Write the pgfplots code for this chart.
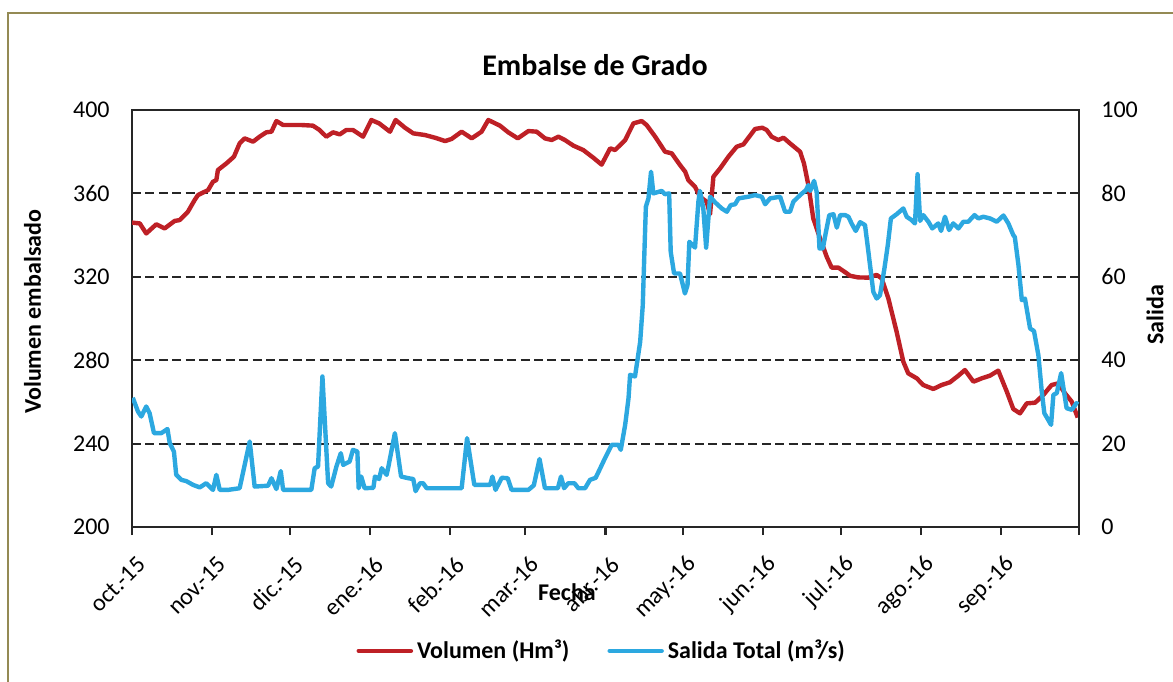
\documentclass[border=0pt]{standalone}
\usepackage{fontspec}
\setmainfont{Carlito}
\usepackage{pgfplots}
\pgfplotsset{compat=1.18}
\usepackage{pgfplotstable}
\definecolor{volred}{RGB}{190,32,38}
\definecolor{salblue}{RGB}{44,168,224}
\definecolor{frameol}{RGB}{148,138,84}
\definecolor{axgray}{RGB}{38,38,38}

\pgfplotstableread{
d v
0 346
3 345.6
5.5 340.8
9.4 345.2
12.6 343.2
16.5 346.8
18.4 347.2
21.6 351.2
24.2 356.8
25.5 359.2
29.4 361.6
31.3 365.6
32.6 366.4
33.2 371.2
36.5 374.4
39.4 377.6
41.6 384
43.5 386.4
46.8 384.8
49.3 387.2
51.9 389.3
53.9 389.6
55.8 394.7
58.4 392.8
65.4 392.8
69.9 392.5
72.5 390.4
75.1 387.2
77.7 389.3
80.3 388.3
82.8 390.4
85.4 390.4
89.3 387.2
92.5 395.2
95.5 393.6
99.7 389.6
101.9 395.2
105.5 391.5
108.7 388.8
113.2 388
117.1 386.7
121 385.1
123.5 386.1
127.4 389.6
131.3 386.4
135.1 389.6
137.7 395.2
142.2 392.5
145.4 389.3
149.1 386.4
153.2 389.9
156.4 389.6
159.6 386.4
162.2 385.6
164.8 387.2
167.3 385.6
170.6 382.9
174.4 380.8
178.3 377.1
181.5 373.8
184.8 381.6
186.7 380.8
190.6 385.6
193.8 393.6
197 394.7
198.9 392.8
202.2 387.2
206 380
208.6 379.2
211.8 373.6
213.8 370.4
215 366.4
217.6 363.2
219.5 358.4
222.1 356
223.4 350
224.7 368
227.3 372
230.5 377.6
233.7 382.4
236.3 383.5
240.8 390.9
243.6 391.5
245.3 390.4
247.2 387.2
249.8 385.6
251.8 386.7
254.3 384
258.2 380
259.7 374.4
261.4 364
263.3 348
265.9 338.5
268.5 329.6
270.4 324.4
273 324.4
276.2 321.7
277.5 320.5
280.7 319.7
284.6 319.6
287.8 320.9
289.7 319.3
292.3 309.7
295.5 293.7
298.1 279.3
300 273.7
303.3 271.3
305.8 268.1
309.7 266.2
312.9 268.1
316.1 269.4
319.4 272.6
321.9 275.3
325.2 269.7
328.4 271.3
331.6 272.6
334.8 275
338.1 264.9
340.6 256.6
343.2 254.5
345.8 259.3
349 259.6
352.2 263.3
355.4 268.1
358 268.9
360.6 264.1
363.2 260.1
365.5 252.5
}\voltable

\pgfplotstableread{
d s
0.3 31
2.3 27.7
3.6 26.5
5.5 28.9
6.8 27.3
8.5 22.5
11.3 22.5
13.7 23.5
14.6 20.1
16.2 18.1
17.1 12.5
19.1 11.3
21 11
23.6 10.1
26.2 9.5
28.7 10.5
31.3 8.9
32.6 12.5
33.9 8.9
37.1 8.9
41.6 9.3
45.5 20.5
47.4 9.7
52.6 9.9
53.9 11.7
55.8 9.1
57.5 13.4
58.4 8.9
69.3 8.9
70.6 14.1
71.9 14.5
73.6 36.1
75.8 10.5
77 9.7
79 14.5
80.7 17.7
81.6 14.9
84.1 15.7
85.4 18.5
87.1 18.1
87.6 9.3
88.6 12.1
89.9 9.3
93.3 9.4
93.9 12.1
95.5 11.5
96.5 14.1
98.4 12.5
99.1 14.5
101.6 22.5
104 12.1
106.8 11.7
108.7 11.5
109.6 8.6
111.3 10.5
112.5 10.5
113.9 9.3
127.4 9.3
129.5 21.3
132.3 10.1
138.4 10.1
139.3 12.1
140.5 8.9
142.9 11.8
145.2 11.7
146.7 8.9
153.2 8.9
155.3 10
157.5 16.3
159.6 9.3
164.6 9.3
165.8 12.1
167 9.3
168.6 10.5
171 10.5
172.5 9.3
175.1 9.3
177 11.3
179.2 11.8
180.9 14
182.8 16.5
185.4 19.7
188 19.7
188.9 18.5
190.6 24.5
191.9 30.9
192.5 36.5
194.4 36.1
196.4 44.4
197.4 53.2
198 65.2
198.6 76.8
199.6 78.8
200.6 85.2
201.5 80
204.7 80.6
206 79.8
207.6 80
208.2 66
209.5 60.8
211.8 60.8
213.7 56
214.7 58
215.4 68.4
217.6 67
218.9 78
219.5 80.6
220.8 76.4
221.9 67
223.4 79.2
225.3 77.9
227.9 76.4
229.9 75.6
231.4 77.2
233.1 77.4
234.4 78.8
238.2 79.2
240.8 79.6
243.4 79.2
244.7 77.4
246.6 78.8
250.5 79.2
252.4 75.6
254.3 75.6
255.6 78
258.2 79.6
260.5 80.8
261.4 82
262.1 80.6
263.6 83
264.6 80.4
265.7 66.8
267 66.8
268.2 70.8
269.5 74.8
271.1 75
272.4 71.8
273.7 74.8
275.6 74.8
276.9 74.4
278.1 72.8
279.7 71
281.4 73.1
283.3 72.4
284.6 66
286.5 56.4
287.8 54.8
289.1 55.6
290.8 62
292.1 67.6
293.3 74
295.5 75
298.1 76.4
299.4 74.4
301.3 73.6
302.6 72.8
303.6 84.6
304.6 73.4
305.8 74.8
307.8 73.2
309.3 71.6
311.6 72.8
312.7 71
314.2 74.4
315.8 71.2
317.4 72.8
319.4 71.6
321.3 73.2
323.2 73.2
325.6 74.8
327.1 74
329 74.4
331.6 74
334.2 73.2
336.8 74.7
338.7 72.8
340.6 70
341.2 69.5
342.6 62.8
343.9 54.4
345.1 54.8
347.1 47.6
348.6 47
350.3 41.2
351.6 32.5
352.6 27.3
354.1 25.7
355.2 24.5
356.1 31.7
357.4 32.1
359.1 36.9
361.2 28.5
363.2 28.1
365 29.7
365.6 29.4
}\saltable

\begin{document}
\begin{tikzpicture}[x=1pt,y=1pt]
\useasboundingbox (0,0) rectangle (586.5,340.5);
\draw[frameol, line width=1pt] (4,-5) -- (4,333.8) -- (600,333.8);
\begin{axis}[
  at={(66pt,77pt)}, anchor=south west, scale only axis,
  width=473.5pt, height=208.5pt,
  xmin=0, xmax=366, ymin=200, ymax=400,
  xtick={0,31,61,92,123,152,183,213,244,274,305,336,366},
  xticklabels={oct.-15,nov.-15,dic.-15,ene.-16,feb.-16,mar.-16,abr.-16,may.-16,jun.-16,jul.-16,ago.-16,sep.-16,{}},
  xtick pos=bottom, tick align=outside, major tick length=4pt,
  xtick style={axgray, line width=1.1pt},
  ytick={200,240,...,400}, ytick pos=left, ytick style={draw=none},
  ymajorgrids, major grid style={axgray, line width=1pt, dash pattern=on 4.5pt off 2.2pt},
  axis line style={axgray, line width=1.3pt},
  tick label style={font=\fontsize{12}{14}\selectfont, text=black},
  /pgf/number format/assume math mode=true,
  xticklabel style={rotate=45, anchor=east, inner sep=0pt, xshift=-5.5pt, yshift=-12.5pt},
  yticklabel style={anchor=east, inner sep=0pt, xshift=-7pt},
]
\addplot[volred, line width=2.2pt, line join=round] table {\voltable};
\end{axis}
\begin{axis}[
  at={(66pt,77pt)}, anchor=south west, scale only axis,
  width=473.5pt, height=208.5pt,
  xmin=0, xmax=366, ymin=0, ymax=100,
  axis x line=none, axis y line*=right,
  ytick={0,20,...,100}, ytick style={draw=none},
  y axis line style={axgray, line width=1.3pt},
  tick label style={font=\fontsize{12}{14}\selectfont, text=black},
  /pgf/number format/assume math mode=true,
  yticklabel style={anchor=west, inner sep=0pt, xshift=11pt},
  legend style={at={(0.497,-0.297)}, anchor=center, draw=none, fill=none,
    font=\bfseries\fontsize{12}{14}\selectfont,
    /tikz/every even column/.append style={column sep=17pt}},
  legend columns=2, legend cell align=left,
  legend image code/.code={\draw[#1, line cap=round] (0pt,0pt) -- (26pt,0pt);},
]
\addlegendimage{volred, line width=2.3pt}
\addlegendentry{Volumen (Hm³)}
\addplot[salblue, line width=2.2pt, line join=round] table {\saltable};
\addlegendentry{Salida Total (m³/s)}
\end{axis}
\node[font=\bfseries\fontsize{15}{18}\selectfont, anchor=base] at (297.5,302.5) {Embalse de Grado};
\node[font=\bfseries\fontsize{12}{14}\selectfont, rotate=90] at (16.25,184.6) {Volumen embalsado};
\node[font=\bfseries\fontsize{12}{14}\selectfont, rotate=90] at (577.5,183.2) {Salida};
\node[font=\bfseries\fontsize{12}{14}\selectfont] at (283.5,44.5) {Fecha};
\end{tikzpicture}
\end{document}
